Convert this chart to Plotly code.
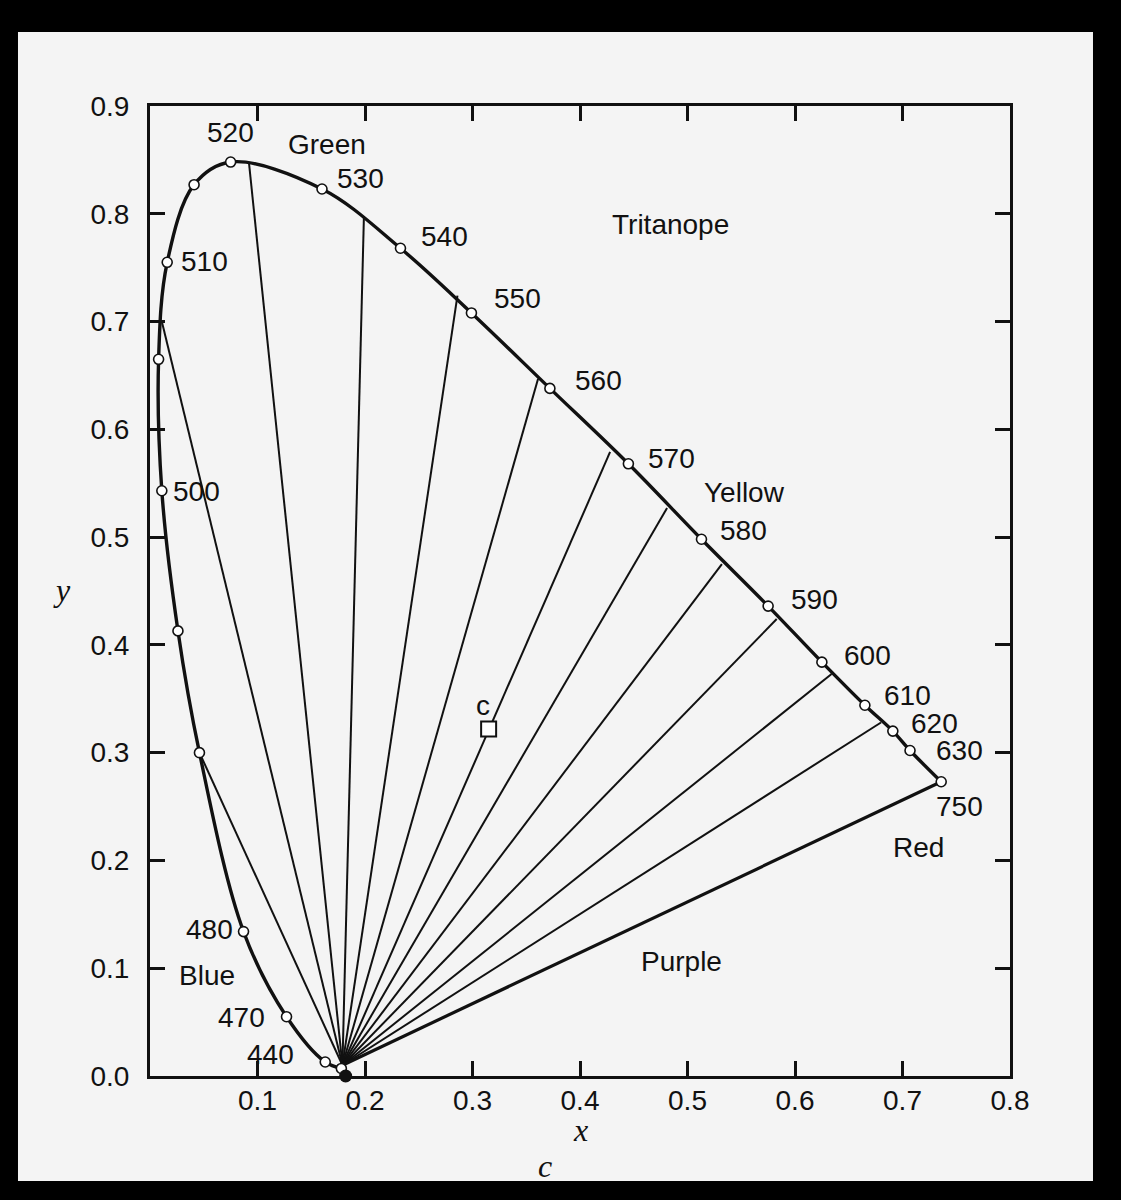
import plotly.graph_objects as go

# ---- data (CIE x, y chromaticity) ----
# spectral locus sample points, ordered by wavelength (nm)
locus_nm = [420, 440, 470, 480, 490, 495, 500, 505, 510, 515, 520,
            530, 540, 550, 560, 570, 580, 590, 600, 610, 620, 630, 750]
locus_x = [0.178, 0.163, 0.127, 0.087, 0.046, 0.026, 0.011, 0.008, 0.016, 0.041, 0.075,
           0.160, 0.233, 0.299, 0.372, 0.445, 0.513, 0.575, 0.625, 0.665, 0.691, 0.707, 0.736]
locus_y = [0.007, 0.013, 0.055, 0.134, 0.300, 0.413, 0.543, 0.665, 0.755, 0.827, 0.848,
           0.823, 0.768, 0.708, 0.638, 0.568, 0.498, 0.436, 0.384, 0.344, 0.320, 0.302, 0.273]

# tritanope confusion lines: far ends on the spectral locus
confusion_x = [0.011, 0.046, 0.092, 0.199, 0.286, 0.361, 0.428, 0.481, 0.532, 0.583, 0.634, 0.680]
confusion_y = [0.700, 0.300, 0.848, 0.798, 0.724, 0.647, 0.579, 0.527, 0.475, 0.424, 0.373, 0.328]

# convergence point of the confusion lines
center_x = 0.179
center_y = 0.010

# tritanope copunctal point (black dot)
copunct_x = [0.182]
copunct_y = [0.000]

# illuminant C
illum_x = [0.315]
illum_y = [0.322]

# wavelength labels
wl_labels = ["440", "470", "480", "500", "510", "520", "530", "540", "550", "560",
             "570", "580", "590", "600", "610", "620", "630", "750"]
# colour-region labels
region_labels = ["Green", "Tritanope", "Yellow", "Red", "Purple", "Blue"]

# tick labels
x_ticks = [0.1, 0.2, 0.3, 0.4, 0.5, 0.6, 0.7, 0.8]
x_tick_text = ["0.1", "0.2", "0.3", "0.4", "0.5", "0.6", "0.7", "0.8"]
y_ticks = [0.0, 0.1, 0.2, 0.3, 0.4, 0.5, 0.6, 0.7, 0.8, 0.9]
y_tick_text = ["0.0", "0.1", "0.2", "0.3", "0.4", "0.5", "0.6", "0.7", "0.8", "0.9"]

# ---- layout positions for the text labels (data coordinates) ----
wl_label_pos = [(0.112, 0.020), (0.085, 0.054), (0.055, 0.136), (0.043, 0.542),
                (0.051, 0.756), (0.075, 0.875), (0.196, 0.833), (0.274, 0.779),
                (0.342, 0.721), (0.417, 0.645), (0.485, 0.573), (0.552, 0.506),
                (0.618, 0.442), (0.667, 0.390), (0.705, 0.353), (0.730, 0.327),
                (0.753, 0.302), (0.753, 0.250)]
region_label_pos = [(0.165, 0.864), (0.484, 0.790), (0.553, 0.541),
                    (0.715, 0.212), (0.494, 0.106), (0.053, 0.093)]

INK = "#111111"
PAGE = "#f4f4f4"
SANS = "Liberation Sans"
SERIF = "Liberation Serif"
FS = 28

fig = go.Figure()

# confusion lines
cx, cy = [], []
for ex, ey in zip(confusion_x, confusion_y):
    cx += [center_x, ex, None]
    cy += [center_y, ey, None]
fig.add_trace(go.Scatter(x=cx, y=cy, mode="lines",
                         line=dict(color=INK, width=2),
                         hoverinfo="skip", showlegend=False))

# purple line (750 nm back to the convergence point)
fig.add_trace(go.Scatter(x=[locus_x[-1], center_x], y=[locus_y[-1], center_y], mode="lines",
                         line=dict(color=INK, width=3.2),
                         hoverinfo="skip", showlegend=False))

# spectral locus
fig.add_trace(go.Scatter(x=locus_x, y=locus_y, mode="lines",
                         line=dict(color=INK, width=3.4, shape="spline", smoothing=1.0),
                         text=locus_nm, showlegend=False))

# open circles on the locus
fig.add_trace(go.Scatter(x=locus_x, y=locus_y, mode="markers",
                         marker=dict(symbol="circle", size=10, color="white",
                                     line=dict(color=INK, width=1.6)),
                         text=locus_nm, showlegend=False, cliponaxis=False))

# illuminant C
fig.add_trace(go.Scatter(x=illum_x, y=illum_y, mode="markers",
                         marker=dict(symbol="square", size=15, color="white",
                                     line=dict(color=INK, width=2)),
                         showlegend=False))

# copunctal point
fig.add_trace(go.Scatter(x=copunct_x, y=copunct_y, mode="markers",
                         marker=dict(symbol="circle", size=13, color=INK),
                         showlegend=False, cliponaxis=False))

annotations = []
for t, (ax, ay) in zip(wl_labels, wl_label_pos):
    annotations.append(dict(x=ax, y=ay, xref="x", yref="y", text=t, showarrow=False,
                            font=dict(family=SANS, size=FS, color=INK),
                            xanchor="center", yanchor="middle"))
for t, (ax, ay) in zip(region_labels, region_label_pos):
    annotations.append(dict(x=ax, y=ay, xref="x", yref="y", text=t, showarrow=False,
                            font=dict(family=SANS, size=FS, color=INK),
                            xanchor="center", yanchor="middle"))
annotations.append(dict(x=0.3095, y=0.344, xref="x", yref="y", text="c", showarrow=False,
                        font=dict(family=SANS, size=FS, color=INK),
                        xanchor="center", yanchor="middle"))
# axis titles and caption
annotations.append(dict(x=0.50, y=-0.056, xref="paper", yref="paper", text="<i>x</i>",
                        showarrow=False, font=dict(family=SERIF, size=32, color=INK),
                        xanchor="center", yanchor="middle"))
annotations.append(dict(x=-0.102, y=0.501, xref="paper", yref="paper", text="<i>y</i>",
                        showarrow=False, font=dict(family=SERIF, size=32, color=INK),
                        xanchor="center", yanchor="middle"))
annotations.append(dict(x=0.459, y=-0.093, xref="paper", yref="paper", text="<i>c</i>",
                        showarrow=False, font=dict(family=SERIF, size=32, color=INK),
                        xanchor="center", yanchor="middle"))

axis_common = dict(showgrid=False, zeroline=False, showline=True, linecolor=INK,
                   linewidth=3, mirror="ticks", ticks="inside", ticklen=15,
                   tickwidth=2.5, tickcolor=INK,
                   tickfont=dict(family=SANS, size=FS, color=INK))

fig.update_layout(
    width=1121, height=1200,
    margin=dict(l=150, r=111, t=106, b=124),
    paper_bgcolor="black",
    plot_bgcolor=PAGE,
    xaxis=dict(range=[0, 0.8], tickvals=x_ticks, ticktext=x_tick_text,
               ticklabelstandoff=-3, **axis_common),
    yaxis=dict(range=[0, 0.9], tickvals=y_ticks, ticktext=y_tick_text,
               ticklabelstandoff=12, **axis_common),
    annotations=annotations,
    shapes=[dict(type="rect", xref="paper", yref="paper",
                 x0=-0.1535, x1=1.0965, y0=-0.1082, y1=1.0763,
                 fillcolor=PAGE, line=dict(width=0), layer="below")],
    showlegend=False,
)

fig.write_html("out.html", config={"displayModeBar": False},
               post_script="document.body.style.margin='0';document.body.style.overflow='hidden';")
